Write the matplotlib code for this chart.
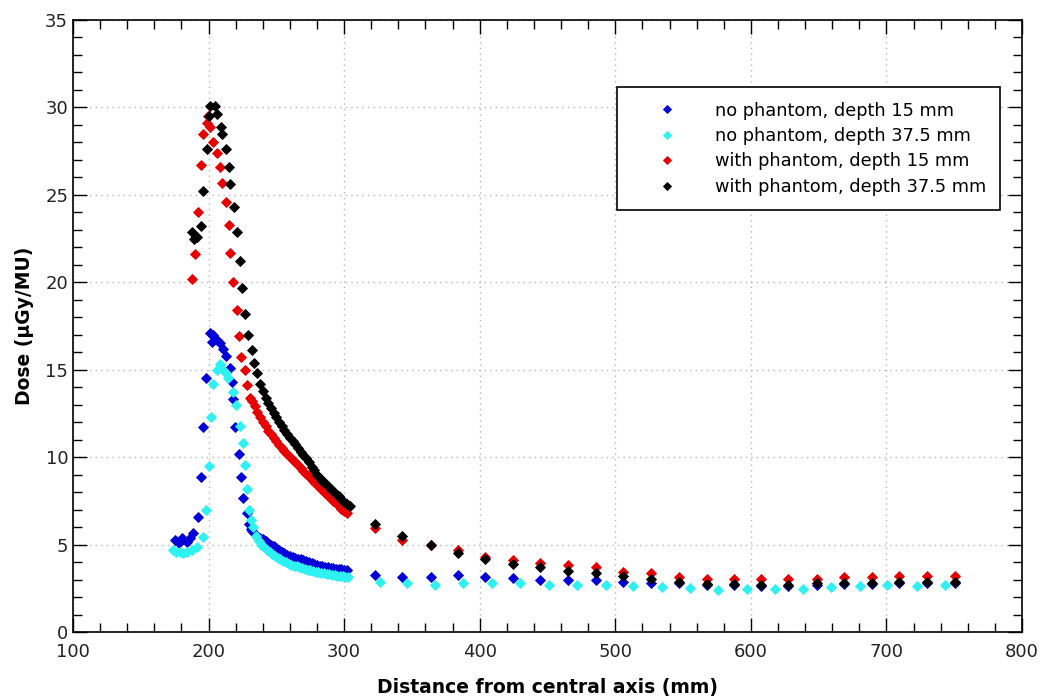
import matplotlib
matplotlib.use("Agg")
import matplotlib.pyplot as plt
from matplotlib.ticker import MultipleLocator

# dose profiles (distance in mm, dose in uGy/MU)
x_nophantom_15 = [175.2, 178.0, 180.4, 184.1, 186.0, 188.5, 192.2, 194.4, 195.9, 198.1,
                  201.0, 202.5, 203.3, 206.2, 208.4, 210.5, 212.9, 215.8, 217.3, 218.0,
                  219.5, 222.4, 223.9, 225.4, 228.4, 229.5, 231.0,
                  232, 234, 236, 238, 240, 242, 244, 246, 248, 250, 252, 254, 256, 258,
                  260, 262, 264, 266, 268, 270, 272, 274, 276, 278, 280, 282, 284, 286,
                  288, 290, 292, 294, 296, 298, 300, 302,
                  322.8, 342.7, 364.0, 384.0, 404.0, 424.6, 444.5, 465.0, 485.8, 505.7,
                  526.4, 547.0, 567.7, 587.6, 607.5, 627.4, 648.8, 668.7, 689.4, 709.3,
                  729.9, 750.6]
y_nophantom_15 = [5.26, 5.10, 5.37, 5.15, 5.40, 5.66, 6.58, 8.86, 11.7, 14.5,
                  17.1, 16.6, 17.0, 16.7, 16.5, 16.2, 15.8, 15.1, 14.3, 13.3,
                  11.7, 10.2, 8.86, 7.66, 6.80, 6.20, 5.90,
                  5.75, 5.6, 5.45, 5.4, 5.3, 5.2, 5.1, 5.0, 4.9, 4.8, 4.7, 4.6, 4.5, 4.4,
                  4.35, 4.3, 4.25, 4.2, 4.15, 4.1, 4.05, 4.0, 3.95, 3.9, 3.85, 3.8, 3.75, 3.72,
                  3.7, 3.68, 3.65, 3.62, 3.6, 3.58, 3.55, 3.52,
                  3.26, 3.15, 3.15, 3.26, 3.15, 3.10, 3.00, 3.00, 3.00, 2.86,
                  2.80, 2.80, 2.70, 2.70, 2.65, 2.65, 2.70, 2.75, 2.75, 2.80,
                  2.80, 2.80]

x_nophantom_375 = [173.8, 176.0, 178.9, 181.5, 184.0, 187.8, 191.5, 195.9, 198.1, 200.3,
                   201.8, 203.3, 206.2, 208.4, 210.6, 212.5, 214.3, 218.0, 220.2, 223.2,
                   225.4, 226.9, 228.4, 229.5, 231.0, 232.5,
                   235, 237, 239, 241, 243, 245, 247, 249, 251, 253, 255, 257, 259, 261,
                   263, 265, 267, 269, 271, 273, 275, 277, 279, 281, 283, 285, 287, 289,
                   291, 293, 295, 297, 299, 301, 303,
                   326.4, 346.4, 367.0, 387.7, 409.0, 429.7, 451.0, 471.7, 493.0, 513.0,
                   534.5, 555.0, 575.8, 597.0, 617.8, 638.5, 659.0, 680.5, 700.4, 722.6,
                   743.2]
y_nophantom_375 = [4.69, 4.55, 4.57, 4.50, 4.60, 4.70, 4.86, 5.43, 7.00, 9.50,
                   12.3, 14.2, 15.0, 15.3, 15.0, 14.8, 14.5, 13.7, 13.0, 11.8,
                   10.8, 9.55, 8.20, 7.00, 6.40, 6.00,
                   5.5, 5.2, 5.0, 4.85, 4.7, 4.55, 4.45, 4.35, 4.25, 4.15, 4.05, 3.98, 3.9, 3.85,
                   3.8, 3.75, 3.7, 3.65, 3.6, 3.55, 3.52, 3.48, 3.45, 3.42, 3.4, 3.37, 3.34, 3.3,
                   3.28, 3.25, 3.22, 3.2, 3.18, 3.15, 3.12,
                   2.86, 2.80, 2.70, 2.80, 2.80, 2.80, 2.70, 2.70, 2.70, 2.63,
                   2.57, 2.50, 2.40, 2.45, 2.45, 2.45, 2.57, 2.63, 2.70, 2.63,
                   2.70]

x_phantom_15 = [187.8, 190.0, 192.2, 194.4, 195.9, 198.8, 199.5, 201.0, 203.3, 206.2,
                208.4, 209.9, 212.9, 215.0, 215.8, 218.0, 221.0, 222.4, 223.9, 226.9,
                228.4, 230.6,
                232, 234, 236, 238, 240, 242, 244, 246, 248, 250, 252, 254, 256, 258,
                260, 262, 264, 266, 268, 270, 272, 274, 276, 278, 280, 282, 284, 286,
                288, 290, 292, 294, 296, 298, 300, 302,
                322.8, 342.7, 364.0, 384.0, 404.0, 424.6, 444.5, 465.0, 485.8, 505.7,
                526.4, 547.0, 567.7, 587.6, 607.5, 627.4, 648.8, 668.7, 689.4, 709.3,
                729.9, 750.6]
y_phantom_15 = [20.2, 21.6, 24.0, 26.7, 28.5, 29.1, 29.5, 28.9, 28.0, 27.4,
                26.6, 25.7, 24.6, 23.3, 21.7, 20.0, 18.4, 16.9, 15.7, 15.0,
                14.1, 13.4,
                13.2, 12.9, 12.6, 12.3, 12.0, 11.8, 11.5, 11.3, 11.1, 10.9, 10.7, 10.5, 10.35, 10.2,
                10.0, 9.85, 9.7, 9.55, 9.4, 9.2, 9.05, 8.9, 8.7, 8.55, 8.4, 8.25, 8.1, 7.95,
                7.8, 7.65, 7.5, 7.35, 7.2, 7.05, 6.9, 6.8,
                5.95, 5.26, 4.95, 4.70, 4.30, 4.10, 3.95, 3.83, 3.70, 3.43,
                3.37, 3.14, 3.03, 3.03, 3.03, 3.03, 3.03, 3.14, 3.14, 3.20,
                3.20, 3.20]

x_phantom_375 = [187.8, 189.0, 191.5, 194.4, 195.9, 198.8, 200.3, 201.0, 204.7, 206.2,
                 209.2, 209.9, 212.9, 215.0, 215.8, 218.8, 221.0, 223.0, 224.7, 226.9,
                 229.1, 232.0, 233.5, 235.7,
                 238, 240, 242, 244, 246, 248, 250, 252, 254, 256, 258, 260, 262, 264,
                 266, 268, 270, 272, 274, 276, 278, 280, 282, 284, 286, 288, 290, 292,
                 294, 296, 298, 300, 302, 304,
                 322.8, 342.7, 364.0, 384.0, 404.0, 424.6, 444.5, 465.0, 485.8, 505.7,
                 526.4, 547.0, 567.7, 587.6, 607.5, 627.4, 648.8, 668.7, 689.4, 709.3,
                 729.9, 750.6]
y_phantom_375 = [22.9, 22.5, 22.6, 23.2, 25.2, 27.6, 29.5, 30.1, 30.1, 29.6,
                 28.9, 28.5, 27.6, 26.6, 25.6, 24.3, 22.9, 21.2, 19.7, 18.2,
                 17.0, 16.1, 15.4, 14.8,
                 14.2, 13.8, 13.4, 13.1, 12.8, 12.5, 12.3, 12.0, 11.8, 11.55, 11.3, 11.1, 10.9, 10.75,
                 10.5, 10.3, 10.1, 9.95, 9.7, 9.45, 9.25, 9.0, 8.8, 8.65, 8.5, 8.35, 8.2, 8.05,
                 7.9, 7.75, 7.6, 7.45, 7.3, 7.2,
                 6.20, 5.50, 5.00, 4.50, 4.20, 3.90, 3.70, 3.50, 3.37, 3.20,
                 3.03, 2.86, 2.74, 2.74, 2.70, 2.70, 2.80, 2.80, 2.80, 2.86,
                 2.86, 2.86]

series = [
    (x_nophantom_15, y_nophantom_15, '#0000d8', 'no phantom, depth 15 mm'),
    (x_nophantom_375, y_nophantom_375, '#2ef2f2', 'no phantom, depth 37.5 mm'),
    (x_phantom_15, y_phantom_15, '#e80000', 'with phantom, depth 15 mm'),
    (x_phantom_375, y_phantom_375, '#000000', 'with phantom, depth 37.5 mm'),
]

fig = plt.figure(figsize=(10.46, 7.0), dpi=100)
ax = fig.add_axes([73 / 1046, 68 / 700, 949 / 1046, 612 / 700])

for xs, ys, col, lab in series:
    ax.plot(xs, ys, linestyle='none', marker='D', ms=5.4, mfc=col, mec=col, mew=0.6, label=lab)

ax.set_xlim(100, 800)
ax.set_ylim(0, 35)
ax.xaxis.set_major_locator(MultipleLocator(100))
ax.xaxis.set_minor_locator(MultipleLocator(20))
ax.yaxis.set_major_locator(MultipleLocator(5))
ax.yaxis.set_minor_locator(MultipleLocator(1))
ax.tick_params(which='both', direction='in', top=True, right=True, width=1.0,
               colors='black', labelcolor='#222222', labelsize=13)
ax.tick_params(which='major', length=10)
ax.tick_params(which='minor', length=6.5)
ax.tick_params(axis='x', pad=8)
ax.grid(True, which='major', color='#b4b4b4', linestyle=(0, (1, 3)), linewidth=1.0)
for s in ax.spines.values():
    s.set_linewidth(1.2)

ax.set_xlabel('Distance from central axis (mm)', fontsize=13.5, fontweight='bold', labelpad=12)
ax.set_ylabel('Dose (\u00b5Gy/MU)', fontsize=13.5, fontweight='bold', labelpad=8)

leg = ax.legend(loc='upper right', bbox_to_anchor=(0.977, 0.890), borderaxespad=0,
                fontsize=12.8, frameon=True, fancybox=False, framealpha=1,
                markerscale=0.75, handlelength=4.0, handletextpad=0.67,
                borderpad=0.8, labelspacing=0.42)
leg.get_frame().set_edgecolor('black')
leg.get_frame().set_linewidth(1.2)

fig.savefig('out.png', dpi=100)
